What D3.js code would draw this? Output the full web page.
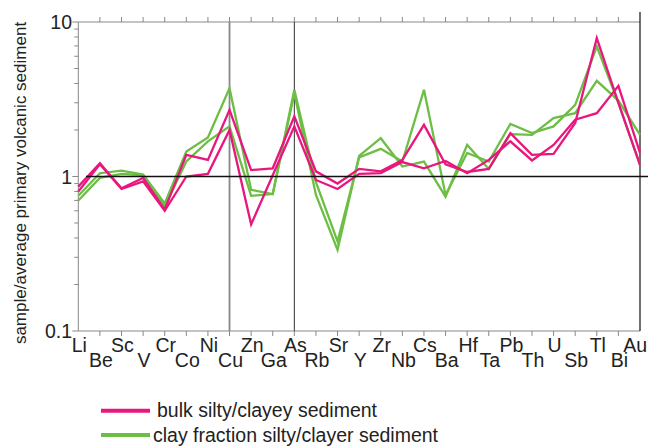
<!DOCTYPE html>
<html><head><meta charset="utf-8">
<script src="https://cdn.jsdelivr.net/npm/d3@7"></script>
<style>body{margin:0;background:#fff}svg{display:block}text{font-family:"Liberation Sans",Arial,Helvetica,sans-serif;fill:#222}</style>
</head><body><svg id="c" width="648" height="446"></svg>
<script>
const elements = ["Li","Be","Sc","V","Cr","Co","Ni","Cu","Zn","Ga","As","Rb","Sr","Y","Zr","Nb","Cs","Ba","Hf","Ta","Pb","Th","U","Sb","Tl","Bi","Au"];
const bulkA = [0.86,1.22,0.84,0.98,0.61,1.38,1.28,2.70,1.10,1.13,2.45,1.08,0.90,1.12,1.08,1.28,2.16,1.20,1.07,1.12,1.91,1.38,1.40,2.22,7.87,3.00,1.19];
const bulkB = [0.80,1.20,0.83,0.93,0.60,1.00,1.04,2.00,0.49,1.02,2.11,0.95,0.83,1.04,1.05,1.24,1.13,1.26,1.05,1.28,1.69,1.27,1.60,2.33,2.57,3.86,1.42];
const clayC = [0.75,1.05,1.09,1.03,0.67,1.45,1.79,3.73,0.82,0.77,3.64,0.92,0.38,1.33,1.51,1.25,3.64,0.76,1.42,1.25,2.19,1.91,2.11,2.91,6.93,3.00,1.19];
const clayD = [0.70,0.98,1.04,1.02,0.64,1.25,1.69,2.11,0.75,0.77,3.46,0.76,0.335,1.36,1.77,1.16,1.25,0.74,1.60,1.12,1.88,1.86,2.39,2.57,4.16,3.10,1.86];
const yTicks = [0.1,1,10];
const yTickLabels = ["0.1","1","10"];
const minorTicks = [0.2,0.3,0.4,0.5,0.6,0.7,0.8,0.9,2,3,4,5,6,7,8,9];
const legendLabels = ["bulk silty/clayey sediment","clay fraction silty/clayer sediment"];
const PINK = "#e8177d", GREEN = "#6dbe45";

const svg = d3.select("#c");
const L = 78.3, R = 640, T = 22, B = 331;
const x = d3.scalePoint().domain(elements).range([L, R]);
const y = d3.scaleLog().domain([0.1, 10]).range([B, T]);

// left axis
svg.append("line").attr("x1",L).attr("x2",L).attr("y1",T).attr("y2",B).attr("stroke","#888").attr("stroke-width",1);
svg.selectAll(".mt").data(minorTicks).join("line").attr("x1",L-4).attr("x2",L).attr("y1",d=>y(d)).attr("y2",d=>y(d)).attr("stroke","#888");
svg.selectAll(".Mt").data(yTicks).join("line").attr("x1",L-6).attr("x2",L).attr("y1",d=>y(d)).attr("y2",d=>y(d)).attr("stroke","#888");
svg.selectAll(".yl").data(yTicks).join("text").attr("x",72).attr("y",d=>y(d)+7).attr("text-anchor","end").attr("font-size",19.5).text((d,i)=>yTickLabels[i]);
svg.append("text").attr("transform",`translate(26,183) rotate(-90)`).attr("text-anchor","middle").attr("font-size",17).text("sample/average primary volcanic sediment");

// top & bottom axes
svg.append("line").attr("x1",L).attr("x2",R).attr("y1",T).attr("y2",T).attr("stroke","#888");
svg.append("line").attr("x1",L).attr("x2",R).attr("y1",B).attr("y2",B).attr("stroke","#888");
svg.selectAll(".tt").data(elements.slice(1,-1)).join("line").attr("x1",d=>x(d)).attr("x2",d=>x(d)).attr("y1",T-5).attr("y2",T).attr("stroke","#888");
svg.selectAll(".bt").data(elements.slice(1,-1)).join("line").attr("x1",d=>x(d)).attr("x2",d=>x(d)).attr("y1",B).attr("y2",B+5).attr("stroke","#888");
// right border
svg.append("line").attr("x1",R).attr("x2",R).attr("y1",12).attr("y2",B).attr("stroke","#222").attr("stroke-width",1.3);
// vertical markers
svg.append("line").attr("x1",x("Cu")).attr("x2",x("Cu")).attr("y1",T).attr("y2",B).attr("stroke","#888").attr("stroke-width",1.8);
svg.append("line").attr("x1",x("As")).attr("x2",x("As")).attr("y1",T).attr("y2",B).attr("stroke","#333").attr("stroke-width",1);

// x labels
svg.selectAll(".xl").data(elements).join("text")
  .attr("x",(d,i)=>i===elements.length-1?647:x(d)+1)
  .attr("y",(d,i)=>i%2===0?352:367)
  .attr("text-anchor",(d,i)=>i===elements.length-1?"end":"middle")
  .attr("font-size",19.5).text(d=>d);

// series
const line = d3.line().x((d,i)=>x(elements[i])).y(d=>y(d));
[[clayD,GREEN],[clayC,GREEN],[bulkB,PINK],[bulkA,PINK]].forEach(([s,c])=>{
  svg.append("path").datum(s).attr("d",line).attr("fill","none").attr("stroke",c).attr("stroke-width",2.3).attr("stroke-linejoin","miter");
});
// reference line at 1
svg.append("line").attr("x1",86).attr("x2",648).attr("y1",y(1)).attr("y2",y(1)).attr("stroke","#111").attr("stroke-width",1.5);

// legend
[[PINK,410.7,417],[GREEN,435,442]].forEach(([c,ly,ty],i)=>{
  svg.append("line").attr("x1",101).attr("x2",150).attr("y1",ly).attr("y2",ly).attr("stroke",c).attr("stroke-width",4);
  svg.append("text").attr("x",i===0?157:153).attr("y",ty).attr("font-size",19.5).text(legendLabels[i]);
});
</script></body></html>
